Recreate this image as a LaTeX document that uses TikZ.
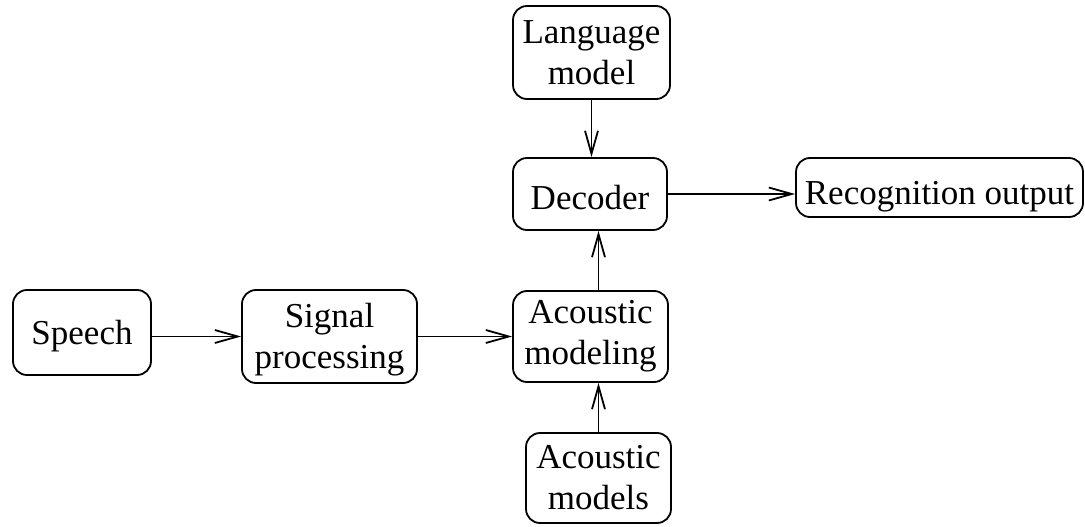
\documentclass[tikz,border=0pt]{standalone}
\usepackage{fontspec}
\setmainfont{Liberation Serif}
\usetikzlibrary{arrows.meta}
\begin{document}
\begin{tikzpicture}[x=1pt,y=-1pt,
  block/.style={draw, line width=1.8pt, rounded corners=14pt, align=center,
    inner sep=0pt, font=\fontsize{35}{41}\selectfont},
  oneline/.style={text height=#1, text depth=0pt},
  flow/.style={line width=1.8pt, -{Straight Barb[length=23pt,width=13pt,line width=1.8pt]}}]
  \useasboundingbox (0,0) rectangle (1085,527);
  % processing chain
  \node[block, oneline=24pt, minimum width=138pt, minimum height=85pt] (speech) at (82,332.5) {Speech};
  \node[block, minimum width=175pt, minimum height=93pt] (signal) at (329.5,336.5) {\rule{0pt}{31pt}Signal\\processing};
  \node[block, minimum width=155pt, minimum height=91pt] (acmod) at (590.5,336.5) {Acoustic\\modeling};
  \node[block, oneline=31pt, minimum width=154pt, minimum height=72pt] (decoder) at (590,194) {Decoder};
  \node[block, minimum width=157pt, minimum height=93pt] (lang) at (591.5,52.5) {Language\\model};
  \node[block, oneline=34pt, minimum width=287pt, minimum height=59pt] (recog) at (939.5,187.5) {Recognition output};
  \node[block, minimum width=145pt, minimum height=90pt] (acmodels) at (598.5,478) {Acoustic\\models};
  % connectors
  \draw[flow] (speech.east |- signal) -- (signal.west);
  \draw[flow] (signal.east) -- (acmod.west |- signal);
  \draw[flow] (acmodels.north) -- (acmod.south -| acmodels.north);
  \draw[flow] (acmod.north -| acmodels.north) -- (decoder.south -| acmodels.north);
  \draw[flow] (lang.south) -- (decoder.north -| lang.south);
  \draw[flow] (decoder.east) -- (recog.west |- decoder);
\end{tikzpicture}
\end{document}
